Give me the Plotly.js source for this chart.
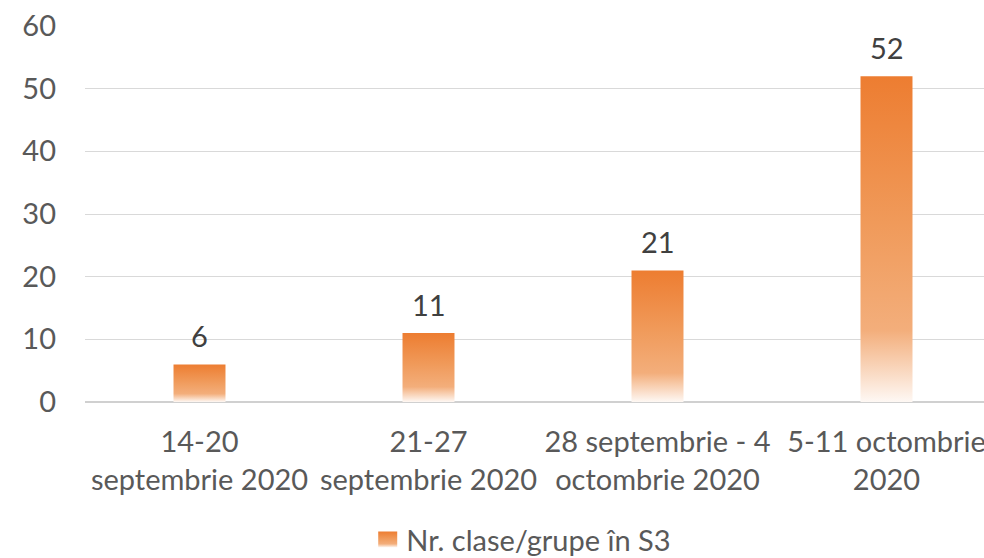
<!DOCTYPE html>
<html>
<head>
<meta charset="utf-8">
<script src="https://cdn.plot.ly/plotly-3.0.1.min.js"></script>
<style>
  html, body { margin: 0; padding: 0; overflow: hidden; background: #fff; }
  #grafic { width: 1010px; height: 558px; }
</style>
</head>
<body>
<div id="grafic"></div>
<script>
'use strict';

/* Nr. clase/grupe in S3 - pe saptamani */

let saptamani = [
    '14-20<br>septembrie 2020',
    '21-27<br>septembrie 2020',
    '28 septembrie - 4<br>octombrie 2020',
    '5-11 octombrie<br>2020'
];
let nrClase = [6, 11, 21, 52];
let numeSerie = 'Nr. clase/grupe în S3';
let ticksY = [0, 10, 20, 30, 40, 50, 60];

let fontGrafic = 'Lato, "Open Sans", sans-serif';
let marimeFont = 29;

let trace = [{
    type: 'bar',
    name: numeSerie,
    x: saptamani,
    y: nrClase,
    marker: { color: '#ED7D31', line: { width: 0 } },
    hoverinfo: 'none',
    showlegend: true
}];

// etichetele de deasupra barelor
let etichete = [];
for (let i = 0; i < nrClase.length; i++) {
    etichete.push({
        x: saptamani[i],
        y: nrClase[i],
        text: String(nrClase[i]),
        showarrow: false,
        yanchor: 'bottom',
        yshift: 9,
        font: { family: fontGrafic, size: marimeFont, color: '#404040' }
    });
}

let layout = {
    width: 1010,
    height: 558,
    margin: { l: 85, r: 9, t: 26, b: 156 },
    paper_bgcolor: '#ffffff',
    plot_bgcolor: '#ffffff',
    bargap: 0.773,
    font: { family: fontGrafic, size: marimeFont, color: '#595959' },
    xaxis: {
        type: 'category',
        automargin: false,
        tickangle: 0,
        showgrid: false,
        showline: false,
        ticks: '',
        ticklabelstandoff: 20,
        tickfont: { family: fontGrafic, size: marimeFont, color: '#595959' }
    },
    yaxis: {
        range: [0, 60],
        autorange: false,
        automargin: false,
        tickvals: ticksY,
        ticks: '',
        showline: false,
        gridcolor: '#D9D9D9',
        gridwidth: 1,
        zeroline: true,
        zerolinecolor: '#D0D0D0',
        zerolinewidth: 1.5,
        ticklabelstandoff: 28,
        tickfont: { family: fontGrafic, size: marimeFont, color: '#595959' }
    },
    showlegend: true,
    legend: {
        orientation: 'h',
        xref: 'paper',
        x: 0.307,
        xanchor: 'left',
        yref: 'container',
        y: 0.033,
        yanchor: 'middle',
        font: { family: fontGrafic, size: marimeFont, color: '#595959' }
    },
    annotations: etichete
};

let config = { staticPlot: true, displayModeBar: false };

Plotly.newPlot('grafic', trace, layout, config).then(function (gd) {
    aplicaGradient(gd);
});

// Excel are umplere in degrade pe bare, Plotly nu, asa ca il pun in SVG
function aplicaGradient(gd) {
    let svg = gd.querySelector('.main-svg');
    let defs = svg.querySelector('defs');
    let ns = 'http://www.w3.org/2000/svg';
    let grad = document.createElementNS(ns, 'linearGradient');
    grad.setAttribute('id', 'degradeBara');
    grad.setAttribute('x1', '0');
    grad.setAttribute('y1', '0');
    grad.setAttribute('x2', '0');
    grad.setAttribute('y2', '1');
    let opriri = [
        ['0', '#ED7D31'],
        ['0.45', '#F09A5A'],
        ['0.78', '#F3AE7B'],
        ['1', '#FEF8F4']
    ];
    opriri.forEach(function (o) {
        let s = document.createElementNS(ns, 'stop');
        s.setAttribute('offset', o[0]);
        s.setAttribute('stop-color', o[1]);
        grad.appendChild(s);
    });
    defs.appendChild(grad);

    gd.querySelectorAll('.bars .point path').forEach(function (p) {
        p.style.fill = 'url(#degradeBara)';
    });
    // simbolul din legenda e mai mare in original
    gd.querySelectorAll('.legend .legendpoints path').forEach(function (p) {
        p.setAttribute('d', 'M-8,8H11V-8H-8Z');
        p.style.fill = 'url(#degradeBara)';
    });
}
</script>
</body>
</html>
